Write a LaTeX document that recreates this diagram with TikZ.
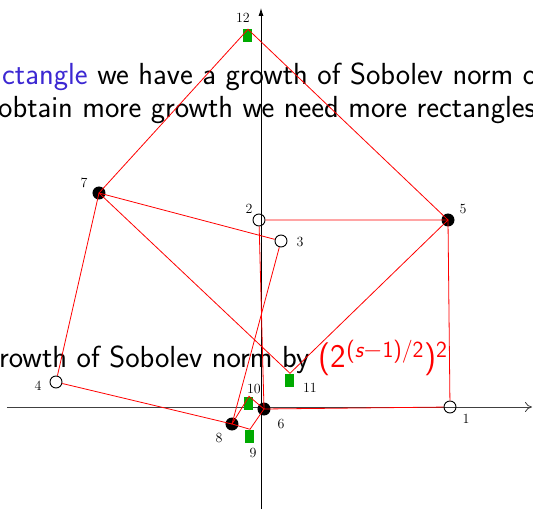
\documentclass[tikz,border=0pt]{standalone}
\usepackage{amsmath}
\usetikzlibrary{arrows.meta}
\definecolor{slideblue}{RGB}{60,40,210}
\definecolor{figgreen}{RGB}{0,170,0}
\begin{document}
\begin{tikzpicture}[x=1pt,y=1pt,
  opendot/.style={circle,draw,line width=0.9pt,minimum size=12pt,inner sep=0pt},
  fulldot/.style={circle,fill,minimum size=13pt,inner sep=0pt},
  greenbox/.style={fill=figgreen,minimum width=9pt,minimum height=13pt,inner sep=0pt},
  num/.style={font=\fontsize{14}{16}\selectfont,inner sep=0pt},
  edge/.style={red,line width=0.8pt},
  slide/.style={font=\sffamily\fontsize{30.5}{33}\selectfont,anchor=base west,inner sep=0pt}]
  \useasboundingbox (-261,-102) rectangle (272,407);
  \clip (-261,-102) rectangle (272,407);
  % slide text behind the figure
  \node[slide] (line1) at (-259,322) {\textcolor{slideblue}{ctangle} we have a growth of Sobolev norm o};
  \node[slide] (line2) at (-263,289) {obtain more growth we need more rectangles};
  \node[slide] (line3) at (-262,40) {rowth of Sobolev norm by
    \textcolor{red}{\fontsize{33}{36}\selectfont(2$^{\textsf{(}\textsf{\itshape s}-\textsf{1)/2}}$)$^{\textsf{2}}$}};
  % axes
  \coordinate (xl) at (-254,0);
  \coordinate (xr) at (271,0);
  \coordinate (yb) at (0,-102);
  \coordinate (yt) at (0,399);
  \draw[black!75,line width=0.8pt,-{To[length=7pt,width=10pt]}] (xl) -- (xr);
  \draw[line width=0.8pt,-{Latex[length=8pt,width=5pt]}] (yb) -- (yt);
  % points
  \node[opendot] (p1) at (189,0) {};
  \node[opendot] (p2) at (-2,187) {};
  \node[opendot] (p3) at (20,166) {};
  \node[opendot] (p4) at (-205,25) {};
  \node[fulldot] (p5) at (187,187) {};
  \node[fulldot] (p6) at (3,-2) {};
  \node[fulldot] (p7) at (-162,214) {};
  \node[fulldot] (p8) at (-29,-17) {};
  \node[greenbox] (p9) at (-11,-29) {};
  \node[greenbox] (p10) at (-12,4) {};
  \node[greenbox] (p11) at (29,27) {};
  \node[greenbox] (p12) at (-13,371) {};
  % rectangles
  \draw[edge] (p6.center) -- (p1) -- (p5.center) -- (p2) -- (p6.center);
  \draw[edge] (p7.center) -- (p3) -- (p8.center) -- (p4) -- (p7.center);
  \draw[edge] (p12.north) -- (p5.center) -- (p11.north) -- (p7.center) -- cycle;
  \draw[edge] (p10.north) -- (p6.center) -- (p9.north) -- (p8.center) -- cycle;
  % labels
  \node[num] (n1) at (205,-12) {1};
  \node[num] (n2) at (-12,198) {2};
  \node[num] (n3) at (39,165) {3};
  \node[num] (n4) at (-223,21) {4};
  \node[num] (n5) at (202,198) {5};
  \node[num] (n6) at (20,-17) {6};
  \node[num] (n7) at (-177,224) {7};
  \node[num] (n8) at (-42,-31) {8};
  \node[num] (n9) at (-8,-46) {9};
  \node[num] (n10) at (-7,18) {10};
  \node[num] (n11) at (49,19) {11};
  \node[num] (n12) at (-18,389) {12};
\end{tikzpicture}
\end{document}
